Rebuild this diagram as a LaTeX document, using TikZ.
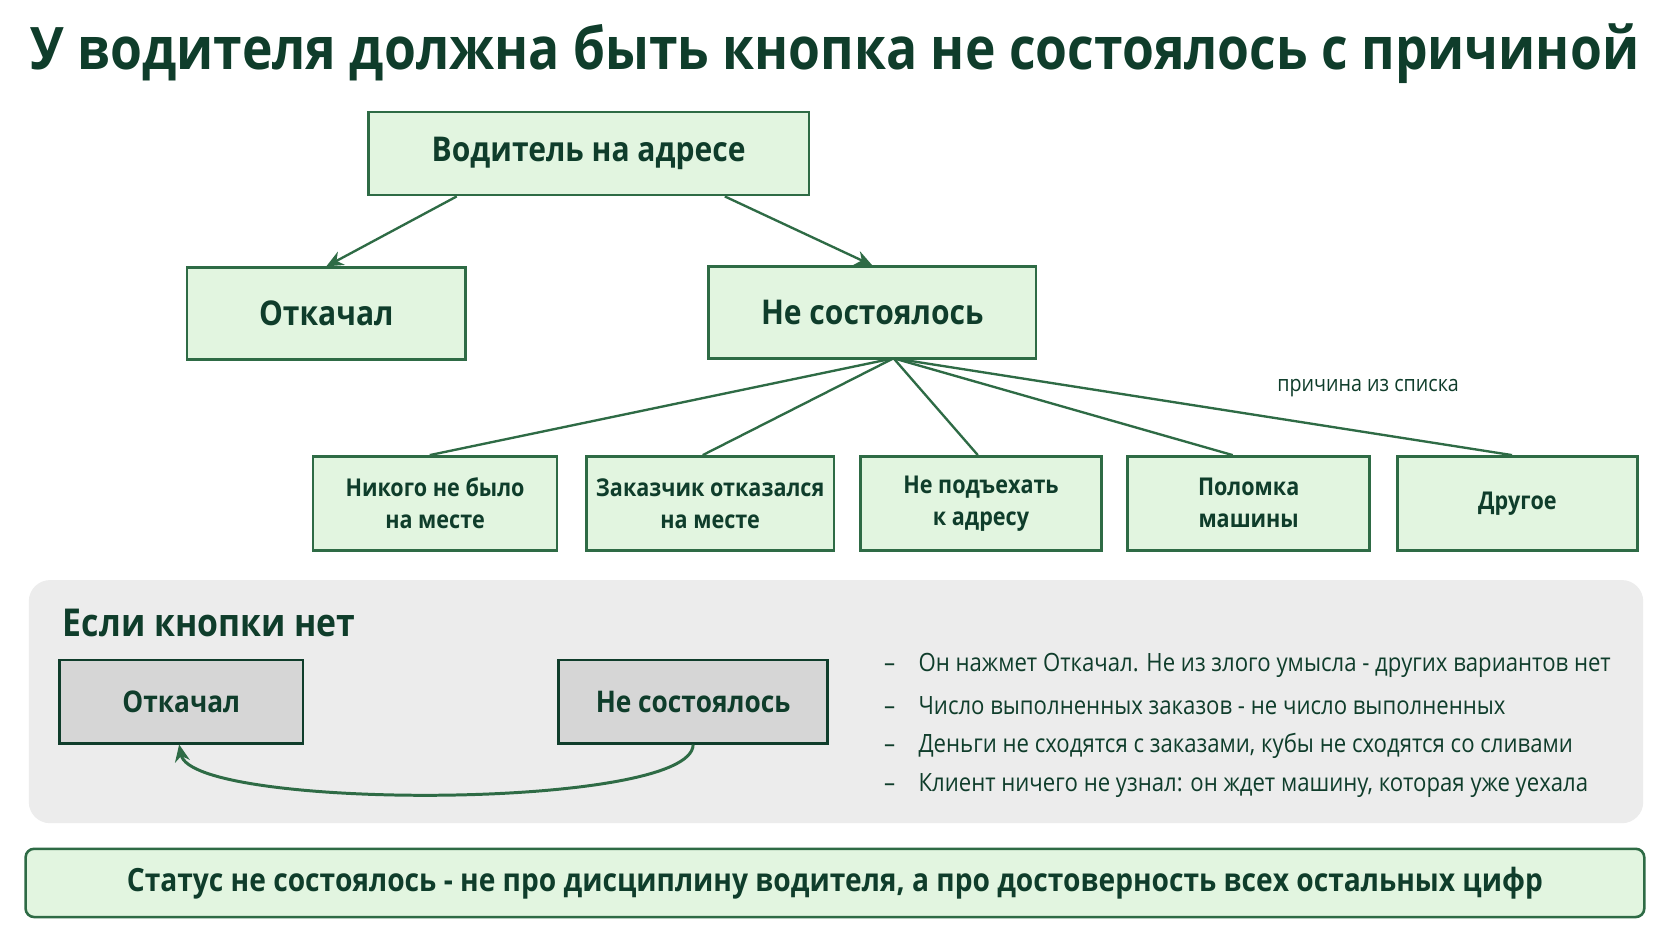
\documentclass[tikz,border=0pt]{standalone}
\usepackage{fontspec}
\setmainfont{Open Sans}[FakeStretch=0.88]
\usetikzlibrary{arrows.meta,calc}
\definecolor{dg}{HTML}{0F3D2B}
\definecolor{bd}{HTML}{2E6B45}
\definecolor{gf}{HTML}{E2F5E0}
\definecolor{pn}{HTML}{ECECEC}
\begin{document}
\begin{tikzpicture}[x=0.5pt,y=-0.5pt,
 gb/.style={draw=bd,line width=1.2pt,fill=gf,text=dg,align=center,inner sep=0pt},
 gy/.style={draw=dg,line width=1.2pt,fill=pn!80!gray,text=dg,align=center,inner sep=0pt},
 ln/.style={draw=bd,line width=1.1pt},
 ar/.style={ln,-{Stealth[length=8pt,width=7pt]}},
 big/.style={font=\fontsize{16}{19}\selectfont\bfseries},
 sm/.style={font=\fontsize{11.5}{15}\selectfont\bfseries}]
\useasboundingbox (0,0) rectangle (1568,882);
\fill[white] (0,0) rectangle (1568,882);
\node[text=dg,font=\fontsize{27.5}{32}\selectfont\bfseries] (t) at (783,50) {У водителя должна быть кнопка не состоялось с причиной};
\node[gb,big,minimum width=206.5pt,minimum height=39pt] (a) at (552,144) {Водитель на адресе};
\node[gb,big,minimum width=130.5pt,minimum height=43pt] (b) at (306,294) {Откачал};
\node[gb,big,minimum width=153.5pt,minimum height=43pt] (c) at (818,293) {Не состоялось};
\node[gb,sm,minimum width=114.5pt,minimum height=44pt] (d1) at (408,472) {Никого не было\\на месте};
\node[gb,sm,minimum width=116pt,minimum height=44pt] (d2) at (666,472) {Заказчик отказался\\на месте};
\node[gb,sm,minimum width=113pt,minimum height=44pt] (d3) at (920,472) {Не подъехать\\к адресу};
\node[gb,sm,minimum width=113.5pt,minimum height=44pt] (d4) at (1171,472) {Поломка\\машины};
\node[gb,sm,minimum width=112.5pt,minimum height=44pt] (d5) at (1423,472) {Другое};
\draw[ar] ($(a.south west)+(84,0)$) -- (b.north);
\draw[ar] ($(a.south east)+(-80,0)$) -- (c.north);
\coordinate (cs) at (838,336);
\draw[ln] (cs) -- ($(d1.north)+(-5,0)$);
\draw[ln] (cs) -- ($(d2.north)+(-7,0)$);
\draw[ln] (cs) -- ($(d3.north)+(-3,0)$);
\draw[ln] (cs) -- ($(d4.north)+(-15,0)$);
\draw[ln] (cs) -- ($(d5.north)+(-5,0)$);
\node[text=dg,font=\fontsize{10.5}{12}\selectfont] (lb) at (1283,364) {причина из списка};
\node[fill=pn,rounded corners=10pt,minimum width=757pt,minimum height=114pt,inner sep=0pt] (p) at (784,658) {};
\node[text=dg,anchor=west,font=\fontsize{18}{20}\selectfont\bfseries] (e) at (52,584) {Если кнопки нет};
\node[gy,font=\fontsize{14}{16}\selectfont\bfseries,minimum width=114pt,minimum height=39pt] (o) at (170,658) {Откачал};
\node[gy,font=\fontsize{14}{16}\selectfont\bfseries,minimum width=126pt,minimum height=39pt] (n) at (650,658) {Не состоялось};
\draw[ar,line width=1.4pt] (n.south) .. controls (650,760) and (180,760) .. ($(o.south)+(-2,0)$);
\foreach \i/\t in {0/{Он нажмет Откачал. Не из злого умысла - других вариантов нет},1/{Число выполненных заказов - не число выполненных},2/{Деньги не сходятся с заказами, кубы не сходятся со сливами},3/{Клиент ничего не узнал: он ждет машину, которая уже уехала}}
 \node[text=dg,anchor=west,font=\fontsize{11.8}{14}\selectfont] (b\i) at (822,624+\i*37.7) {–\hspace{11pt}\t};
\node[gb,rounded corners=4pt,minimum width=759pt,minimum height=32pt,font=\fontsize{15}{18}\selectfont\bfseries] (s) at (783,828) {Статус не состоялось - не про дисциплину водителя, а про достоверность всех остальных цифр};
\end{tikzpicture}
\end{document}
